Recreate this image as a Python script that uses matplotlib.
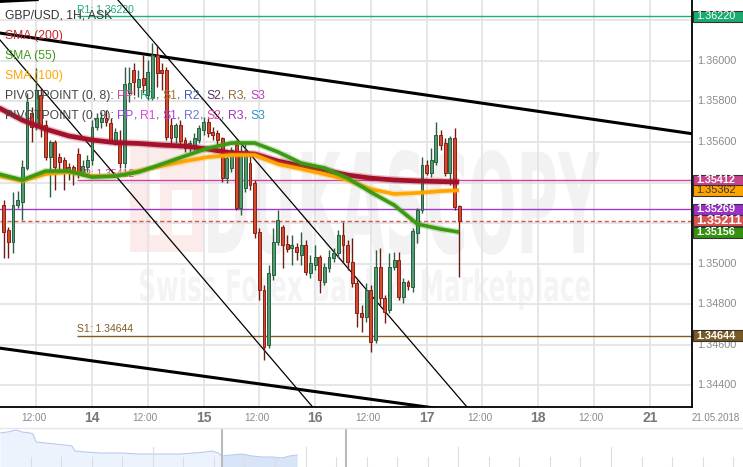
import matplotlib
matplotlib.use("Agg")
import matplotlib.pyplot as plt
import numpy as np
from matplotlib.patches import Rectangle, PathPatch
from matplotlib.textpath import TextPath
from matplotlib.font_manager import FontProperties
from matplotlib import transforms

plt.rcParams['font.family'] = ['Liberation Sans', 'DejaVu Sans']

W, H = 743, 467

# GBP/USD 1H candles, bar index 0 = 14.05 00:00
bar_start = -19
opens = [1.35289, 1.35166, 1.35107, 1.35289, 1.35304, 1.35472, 1.35743, 1.35674, 1.35832, 1.35684,
         1.35526, 1.35600, 1.35526, 1.35511, 1.35477, 1.35477, 1.35541, 1.35452, 1.35477, 1.35511,
         1.35674, 1.35699, 1.35718, 1.35694, 1.35610, 1.35600, 1.35496, 1.35842, 1.35955, 1.35871,
         1.35915, 1.35832, 1.35822, 1.36029, 1.35955, 1.35955, 1.35684, 1.35625, 1.35684, 1.35610,
         1.35575, 1.35585, 1.35610, 1.35659, 1.35699, 1.35649, 1.35644, 1.35620, 1.35422, 1.35472,
         1.35585, 1.35274, 1.35373, 1.35496, 1.35398, 1.35156, 1.34870, 1.34600, 1.34945, 1.35107,
         1.35181, 1.35097, 1.35078, 1.35082, 1.35043, 1.35092, 1.34955, 1.34994, 1.35033, 1.34910,
         1.34979, 1.35029, 1.35053, 1.35142, 1.35092, 1.35008, 1.34905, 1.34757, 1.34737, 1.34870,
         1.34624, 1.34984, 1.34831, 1.34772, 1.34984, 1.35018, 1.34836, 1.34910, 1.34886, 1.35151,
         1.35264, 1.35487, 1.35447, 1.35501, 1.35634, 1.35595, 1.35447, 1.35620, 1.35284]
highs = [1.35314, 1.35181, 1.35353, 1.35358, 1.35511, 1.35842, 1.35772, 1.35965, 1.35866, 1.35708,
         1.35610, 1.35610, 1.35546, 1.35526, 1.35496, 1.35487, 1.35570, 1.35511, 1.35536, 1.35708,
         1.35743, 1.35748, 1.35758, 1.35718, 1.35669, 1.35659, 1.35970, 1.35970, 1.35989, 1.35955,
         1.36029, 1.36004, 1.36088, 1.36078, 1.35989, 1.35970, 1.35718, 1.35694, 1.35708, 1.35625,
         1.35610, 1.35644, 1.35684, 1.35723, 1.35718, 1.35674, 1.35659, 1.35625, 1.35561, 1.35575,
         1.35610, 1.35585, 1.35600, 1.35536, 1.35413, 1.35176, 1.34896, 1.34994, 1.35176, 1.35264,
         1.35191, 1.35142, 1.35142, 1.35102, 1.35156, 1.35117, 1.35043, 1.35092, 1.35043, 1.35004,
         1.35068, 1.35078, 1.35166, 1.35205, 1.35117, 1.35127, 1.34920, 1.34797, 1.34905, 1.34896,
         1.35068, 1.35078, 1.34846, 1.35053, 1.35058, 1.35058, 1.34930, 1.34920, 1.35176, 1.35274,
         1.35526, 1.35511, 1.35570, 1.35699, 1.35659, 1.35620, 1.35630, 1.35669, 1.35289]
lows = [1.35029, 1.35029, 1.35053, 1.35274, 1.35215, 1.35462, 1.35600, 1.35659, 1.35625, 1.35511,
        1.35329, 1.35363, 1.35452, 1.35363, 1.35413, 1.35388, 1.35422, 1.35432, 1.35452, 1.35487,
        1.35659, 1.35669, 1.35679, 1.35595, 1.35585, 1.35472, 1.35472, 1.35797, 1.35832, 1.35822,
        1.35842, 1.35807, 1.35807, 1.35871, 1.35856, 1.35610, 1.35585, 1.35595, 1.35570, 1.35551,
        1.35551, 1.35561, 1.35595, 1.35634, 1.35625, 1.35610, 1.35585, 1.35403, 1.35398, 1.35452,
        1.35264, 1.35240, 1.35353, 1.35363, 1.35127, 1.34821, 1.34525, 1.34584, 1.34920, 1.35092,
        1.34979, 1.35058, 1.34994, 1.35018, 1.34994, 1.34945, 1.34930, 1.34969, 1.34855, 1.34896,
        1.34960, 1.35008, 1.35029, 1.35004, 1.34969, 1.34886, 1.34688, 1.34663, 1.34713, 1.34565,
        1.34609, 1.34797, 1.34708, 1.34757, 1.34969, 1.34821, 1.34806, 1.34870, 1.34860, 1.35102,
        1.35249, 1.35437, 1.35427, 1.35487, 1.35561, 1.35432, 1.35388, 1.35264, 1.34935]
closes = [1.35156, 1.35107, 1.35289, 1.35314, 1.35477, 1.35797, 1.35674, 1.35856, 1.35674, 1.35526,
          1.35600, 1.35477, 1.35501, 1.35452, 1.35447, 1.35447, 1.35452, 1.35482, 1.35511, 1.35674,
          1.35718, 1.35718, 1.35699, 1.35610, 1.35649, 1.35496, 1.35886, 1.35891, 1.35896, 1.35911,
          1.35881, 1.35945, 1.36029, 1.35940, 1.35940, 1.35625, 1.35620, 1.35684, 1.35605, 1.35570,
          1.35595, 1.35620, 1.35669, 1.35699, 1.35644, 1.35634, 1.35610, 1.35422, 1.35521, 1.35561,
          1.35274, 1.35546, 1.35536, 1.35388, 1.35151, 1.34870, 1.34589, 1.34955, 1.35107, 1.35215,
          1.35092, 1.35073, 1.35092, 1.35058, 1.35092, 1.34960, 1.35004, 1.35033, 1.34920, 1.34984,
          1.35033, 1.35053, 1.35142, 1.35092, 1.35008, 1.34905, 1.34757, 1.34737, 1.34870, 1.34614,
          1.34984, 1.34831, 1.34762, 1.34984, 1.35018, 1.34836, 1.34910, 1.34891, 1.35161, 1.35264,
          1.35487, 1.35447, 1.35511, 1.35634, 1.35585, 1.35447, 1.35620, 1.35279, 1.35211]

# moving averages every 5 bars
sma_idx = [-20, -15, -10, -5, 0, 5, 10, 15, 20, 25, 30, 35, 40, 45, 50, 55, 60, 65, 70, 75, 79]
sma200 = [1.35768, 1.35708, 1.35664, 1.35630, 1.35610, 1.35597, 1.35593, 1.35585, 1.35580, 1.35565,
          1.35546, 1.35541, 1.35506, 1.35482, 1.35462, 1.35437, 1.35422, 1.35413, 1.35408, 1.35405, 1.35403]
sma100 = [1.35432, 1.35408, 1.35442, 1.35452, 1.35432, 1.35432, 1.35457, 1.35482, 1.35506, 1.35526,
          1.35536, 1.35536, 1.35491, 1.35467, 1.35442, 1.35413, 1.35368, 1.35344, 1.35349, 1.35358, 1.35362]
sma55 = [1.35442, 1.35413, 1.35457, 1.35457, 1.35427, 1.35432, 1.35452, 1.35491, 1.35531, 1.35570,
         1.35595, 1.35595, 1.35551, 1.35496, 1.35472, 1.35422, 1.35353, 1.35289, 1.35196, 1.35171, 1.35156]

# pivot levels and last price
r1, pp, s1 = 1.36220, 1.35412, 1.34644
pp9 = 1.35269
last_price = 1.35211
pivot_start = -3.2

# trend lines as (x0, y0, x1, y1) in bars / price
thick_lines = [(-19.8, 1.36137, 129.1, 1.35641),
               (-19.8, 1.34584, 80, 1.34269),
               (-19.8, 1.36293, -11.8, 1.36302)]
thin_lines = [(-19.8, 1.36103, 50, 1.34226),
              (4, 1.36342, 82, 1.34259)]

# x tick labels
xtick_pos = [-12, 0, 12, 24, 36, 48, 60, 72, 84, 96, 108, 120]
xtick_lab = ['12:00', '14', '12:00', '15', '12:00', '16', '12:00', '17', '12:00', '18', '12:00', '21']
ytick_vals = [1.344, 1.346, 1.348, 1.350, 1.352, 1.354, 1.356, 1.358, 1.360, 1.362]
ylabel_vals = [1.344, 1.346, 1.348, 1.350, 1.356, 1.358, 1.360]

# navigator overview
nav_t = [0, 8, 16, 22, 30, 33, 36, 45, 55, 65, 72, 75, 85, 100, 120, 140, 160, 180, 195, 205,
         212, 218, 222, 232, 242, 252, 262, 272, 282, 290, 297]
nav_v = [1.374, 1.375, 1.377, 1.375, 1.374, 1.373, 1.365, 1.364, 1.363, 1.362, 1.361, 1.356, 1.355,
         1.354, 1.354, 1.353, 1.353, 1.353, 1.354, 1.355, 1.356, 1.354, 1.351, 1.352, 1.353, 1.351,
         1.350, 1.350, 1.349, 1.351, 1.352]

fig = plt.figure(figsize=(W / 100, H / 100), dpi=100)
fig.patch.set_facecolor('white')
ax = fig.add_axes([0, 1 - 407 / H, 692 / W, 407 / H])
ax.patch.set_alpha(0)
ax.set_xlim(-19.8, 129.1)
ax.set_ylim(1.34294, 1.36300)

ax.set_xticks(xtick_pos)
ax.set_yticks(ytick_vals)
ax.tick_params(length=0, labelbottom=False, labelleft=False)
ax.grid(color='#e4e4e4', lw=1.3)
ax.set_axisbelow(True)
for s in ['left', 'top']:
    ax.spines[s].set_visible(False)
for s in ['right', 'bottom']:
    ax.spines[s].set_color('black')
    ax.spines[s].set_linewidth(1.3)

# watermark
def text_box(txt, x0, y0, x1, y1, color, weight='bold'):
    tp = TextPath((0, 0), txt, size=100, prop=FontProperties(family='DejaVu Sans', weight=weight))
    e = tp.get_extents()
    tr = (transforms.Affine2D().translate(-e.x0, -e.y0)
          .scale((x1 - x0) / e.width, (y1 - y0) / e.height)
          .translate(x0, H - y1)
          + transforms.Affine2D().scale(1 / W, 1 / H) + fig.transFigure)
    fig.add_artist(PathPatch(tp, transform=tr, color=color, lw=0, zorder=-1))

text_box('DUKASCOPY', 208, 150, 600, 255, '#f2f2f2')
text_box('Swiss Forex Bank & Marketplace', 140, 268, 590, 310, '#f4f4f4')
px = transforms.Affine2D().scale(1 / W, 1 / H) + fig.transFigure
fig.add_artist(Rectangle((130, H - 252), 75, 105, transform=px, color='#fcebeb', lw=0, zorder=-1))
fig.add_artist(Rectangle((150, H - 235), 10, 72, transform=px, color='white', lw=0, zorder=-1))
fig.add_artist(Rectangle((172, H - 235), 20, 45, transform=px, color='white', lw=0, zorder=-1))

# pivot / price lines
xr = ax.get_xlim()[1]
ax.hlines(r1, pivot_start, xr, color='#1fae77', lw=1, zorder=2)
ax.hlines(pp, pivot_start, xr, color='#d6409a', lw=1, zorder=2)
ax.hlines(s1, pivot_start, xr, color='#7d5c25', lw=1, zorder=2)
ax.axhline(pp9, color='#a03ad0', lw=1, zorder=2)
ax.axhline(last_price, color='#d9534f', lw=1, ls=(0, (3, 2)), zorder=2)
ax.text(pivot_start, r1 + 0.00008, 'R1: 1.36220', color='#1fae77', fontsize=7.5, va='bottom', zorder=2)
ax.text(pivot_start, pp + 0.00008, 'PP: 1.35412', color='#d6409a', fontsize=7.5, va='bottom', zorder=2)
ax.text(pivot_start, s1 + 0.00008, 'S1: 1.34644', color='#7d5c25', fontsize=7.5, va='bottom', zorder=2)

for x0, y0, x1, y1 in thick_lines:
    ax.plot([x0, x1], [y0, y1], color='black', lw=2.2, zorder=2.5)
for x0, y0, x1, y1 in thin_lines:
    ax.plot([x0, x1], [y0, y1], color='black', lw=0.9, zorder=2.5)

# candles
o = np.array(opens); hh = np.array(highs); ll = np.array(lows); c = np.array(closes)
idx = np.arange(bar_start, bar_start + len(o))
up = c >= o
body = np.maximum(np.abs(c - o), 0.00003)
bot = np.minimum(o, c)
ax.vlines(idx[up], ll[up], hh[up], color='#2c5e40', lw=1, zorder=3)
ax.vlines(idx[~up], ll[~up], hh[~up], color='#6e1c14', lw=1, zorder=3)
ax.bar(idx[up], body[up], bottom=bot[up], width=0.62, color='#4f9c70', edgecolor='#285f3e', lw=0.7, zorder=4)
ax.bar(idx[~up], body[~up], bottom=bot[~up], width=0.62, color='#d5492f', edgecolor='#8a1f16', lw=0.7, zorder=4)

# moving averages
for vals, col, lw in [(sma200, '#a5112b', 3.4), (sma100, '#ffa500', 2.6), (sma55, '#3b9a12', 2.6)]:
    ax.plot(sma_idx, vals, color=col, lw=lw + 2, alpha=0.25, solid_capstyle='butt', zorder=5)
    ax.plot(sma_idx, vals, color=col, lw=lw, solid_capstyle='butt', zorder=5)

# right price scale
bt = transforms.blended_transform_factory(ax.transAxes, ax.transData)
for v in ylabel_vals:
    ax.text(697 / 692, v, '%.5f' % v, transform=bt, color='#8a8a8a', fontsize=7.8,
            va='center', ha='left', clip_on=False)

yr = ax.get_ylim()
hbox = (yr[1] - yr[0]) / 407 * 11
wbox = 50 / 692
boxes = [(r1, '#1aab6f', 'white', 7.8, 'normal'),
         (pp, '#c8438b', 'white', 7.8, 'bold'),
         (sma100[-1], '#ffa500', '#333333', 7.8, 'normal'),
         (pp9, '#9b2fc8', 'white', 7.8, 'bold'),
         (last_price, '#d9534f', 'white', 9.3, 'bold'),
         (sma55[-1], '#34920f', 'white', 7.8, 'bold'),
         (s1, '#7a5a22', 'white', 7.8, 'bold')]
for v, fc, tc, fs, fw in boxes:
    ax.add_patch(Rectangle((1.0015, v - hbox / 2), wbox, hbox, transform=bt, facecolor=fc,
                           edgecolor='#333333', lw=0.8, clip_on=False, zorder=7))
    ax.text(1.006, v, '%.5f' % v, transform=bt, color=tc, fontsize=fs, fontweight=fw,
            va='center', ha='left', clip_on=False, zorder=8)

# time labels
xt = transforms.blended_transform_factory(ax.transData, ax.transAxes)
for p, lab in zip(xtick_pos, xtick_lab):
    if ':' in lab:
        ax.text(p - 0.6, -11 / 407, lab, transform=xt, color='#888888', fontsize=7.2,
                ha='center', va='center', clip_on=False)
    else:
        ax.text(p, -11 / 407, lab, transform=xt, color='#777777', fontsize=10, fontweight='bold',
                ha='center', va='center', clip_on=False)
fig.text(740 / W, 1 - 418 / H, '21.05.2018', color='#888888', fontsize=7, ha='right', va='center')
fig.add_artist(plt.Line2D([0, 1], [1 - 428 / H, 1 - 428 / H], color='#e6e6e6', lw=1))

# legend block
renderer = fig.canvas.get_renderer()

def chain(y_px, parts, size=8.7):
    x = 5
    for s, col in parts:
        t = fig.text(x / W, 1 - y_px / H, s, color=col, fontsize=size, va='center', ha='left', zorder=9)
        x += t.get_window_extent(renderer).width

chain(16, [('GBP/USD, 1H, ASK', '#333333')])
chain(36, [('SMA (200)', '#c0282c')])
chain(56, [('SMA (55)', '#3d9a1d')])
chain(76, [('SMA (100)', '#ffa500')])
g = '#444444'
chain(96, [('PIVOTPOINT (0, 8): ', g), ('PP', '#d0509a'), (', ', g), ('R1', '#1fa56e'), (', ', g),
           ('S1', '#a07c3a'), (', ', g), ('R2', '#3f5cad'), (', ', g), ('S2', '#5c3668'), (', ', g),
           ('R3', '#8f6e36'), (', ', g), ('S3', '#c03cc0')])
chain(116, [('PIVOTPOINT (0, 9): ', g), ('PP', '#a044e0'), (', ', g), ('R1', '#e044e0'), (', ', g),
            ('S1', '#b044e0'), (', ', g), ('R2', '#7474d4'), (', ', g), ('S2', '#e044a4'), (', ', g),
            ('R3', '#a834c4'), (', ', g), ('S3', '#2e94c4')])

# navigator
nav = fig.add_axes([0, 0, 1, 38 / H])
nav.set_xlim(0, W)
nav.set_ylim(1.340, 1.378)
nav.axis('off')
nt = np.array(nav_t); nv = np.array(nav_v)
nav.fill_between(nt, nv, 1.340, color='#edf3fc', lw=0)
sel = nt >= 222
nav.fill_between(nt[sel], nv[sel], 1.340, color='#d8e5f8', lw=0)
nav.plot(nt, nv, color='#b6cbee', lw=0.8)
for k in range(1, 25):
    xk = k * 30.55
    top = 1.360 if k % 5 == 0 else 1.350
    nav.plot([xk, xk], [1.340, top], color='#dddddd', lw=0.8)
for xk in [222, 346]:
    nav.plot([xk, xk], [1.340, 1.378], color='#bbbbbb', lw=1.5)

fig.savefig('out.png', dpi=100)
